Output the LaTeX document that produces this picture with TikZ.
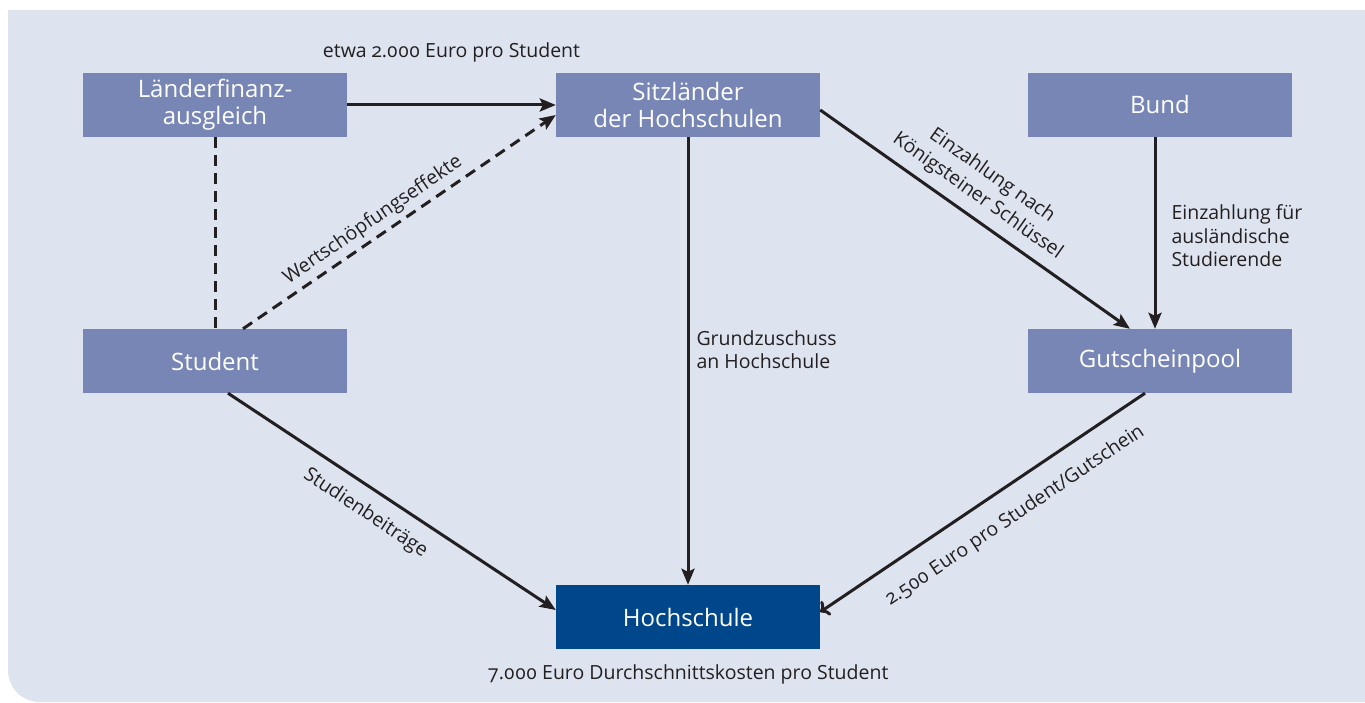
\documentclass[tikz,border=0pt]{standalone}
\usepackage{fontspec}
\setmainfont{Open Sans}[Numbers=OldStyle]
\usetikzlibrary{arrows.meta}
\definecolor{bg}{HTML}{DDE4EF}
\definecolor{boxc}{HTML}{7886B5}
\definecolor{darkc}{HTML}{00468A}
\definecolor{ink}{HTML}{231F20}
\begin{document}
\begin{tikzpicture}[x=1pt,y=-1pt,
  box/.style={fill=boxc, text=white, minimum width=264pt, minimum height=64pt, align=center,
    inner sep=0pt, font=\fontsize{24}{27}\selectfont},
  darkbox/.style={box, fill=darkc},
  lbl/.style={text=ink, font=\fontsize{19.5}{23.5}\selectfont, inner sep=3pt},
  conn/.style={draw=ink, line width=3pt, -{Stealth[length=16pt,width=13pt,inset=3pt]}},
  dconn/.style={conn, dash pattern=on 11pt off 7pt},
  dline/.style={draw=ink, line width=3pt, dash pattern=on 11pt off 7pt}]
\useasboundingbox (0,0) rectangle (1365,703);
\fill[bg] (8,10) -- (1365,10) -- (1365,702) -- (40,702) .. controls (22,702) and (8,688) .. (8,670) -- cycle;

\node[box] (lfa) at (215,105) {Länderfinanz-\\ausgleich};
\node[box] (sitz) at (688,105) {Sitzländer\\der Hochschulen};
\node[box] (bund) at (1160,105) {Bund};
\node[box] (stud) at (215,361) {Student};
\node[box] (gut) at (1160,361) {Gutscheinpool};
\node[darkbox] (hoch) at (688,617) {Hochschule};

\draw[conn] (lfa.east) -- (sitz.west)
  node[lbl, midway, above=38pt] {etwa 2.000 Euro pro Student};
\draw[dline] (lfa.south) -- (stud.north);
\draw[dconn] ([xshift=28pt]stud.north) -- ([yshift=-10pt]sitz.west)
  node[lbl, pos=0.445, sloped, above=2pt] {Wertschöpfungseffekte};
\draw[conn] (sitz.south) -- (hoch.north)
  node[lbl, pos=0.475, right=4pt, align=left] {Grundzuschuss\\an Hochschule};
\draw[conn] ([yshift=-5pt]sitz.east) -- ([xshift=-30pt]gut.north)
  node[lbl, pos=0.47, sloped, above=6pt, align=center, font=\fontsize{19.5}{25}\selectfont] {Einzahlung nach\\Königsteiner Schlüssel};
\draw[conn] ([xshift=-5pt]bund.south) -- ([xshift=-5pt]gut.north)
  node[lbl, pos=0.515, right=12pt, align=left] {Einzahlung für\\ausländische\\Studierende};
\draw[conn] ([xshift=13pt]stud.south) -- ([yshift=7pt]hoch.west)
  node[lbl, pos=0.46, sloped, below=10pt] {Studienbeiträge};
\draw[conn, <-] ([yshift=5pt]hoch.east) -- ([xshift=-15pt]gut.south)
  node[lbl, pos=0.55, sloped, below=15pt] {2.500 Euro pro Student/Gutschein};
\node[lbl, below=12pt] (kost) at (hoch.south) {7.000 Euro Durchschnittskosten pro Student};
\end{tikzpicture}
\end{document}
